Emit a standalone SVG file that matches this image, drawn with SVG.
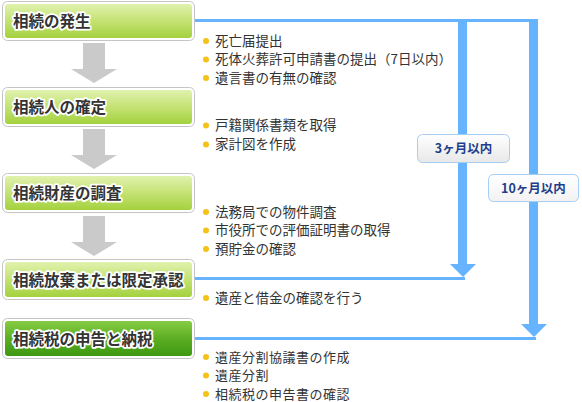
<svg xmlns="http://www.w3.org/2000/svg" width="582" height="402" viewBox="0 0 582 402">
<defs>
<linearGradient id="gLight" x1="0" y1="0" x2="0" y2="1">
<stop offset="0" stop-color="#e0f2ae"/>
<stop offset="0.5" stop-color="#c4e274"/>
<stop offset="1" stop-color="#a4d13e"/>
</linearGradient>
<linearGradient id="gDark" x1="0" y1="0" x2="0" y2="1">
<stop offset="0" stop-color="#86cc44"/>
<stop offset="0.5" stop-color="#5cae22"/>
<stop offset="1" stop-color="#3e9812"/>
</linearGradient>
<linearGradient id="gLabel" x1="0" y1="0" x2="0" y2="1">
<stop offset="0" stop-color="#ffffff"/>
<stop offset="1" stop-color="#e8e8e8"/>
</linearGradient>
<linearGradient id="gLabel2" x1="0" y1="0" x2="0" y2="1">
<stop offset="0" stop-color="#ffffff"/>
<stop offset="1" stop-color="#f2f2f2"/>
</linearGradient>
</defs>
<style>
.outer{fill:#ffffff;stroke:#c4c4c4;stroke-width:1}
.title{font-family:"Noto Sans CJK JP",sans-serif;font-size:15.5px;font-weight:bold;fill:#333333;stroke:#ffffff;stroke-width:3.5px;stroke-linejoin:round;paint-order:stroke}
.item{font-family:"Noto Sans CJK JP",sans-serif;font-size:13.5px;fill:#333333}
.item.s{font-size:13px;letter-spacing:0.5px}
.bullet{fill:#f5c21a}
.garrow{fill:#cacaca}
.blue{fill:#66b3ff}
.lbox{stroke:#a6cdf2;stroke-width:1}
.ltext{font-family:"Noto Sans CJK JP",sans-serif;font-size:12.5px;font-weight:bold;fill:#1f3f8c;text-anchor:middle}
</style>

<g id="connectors">
<polygon class="garrow" points="83,43 105,43 105,69 117,69 94,83 71,69 83,69"/>
<polygon class="garrow" points="83,129 105,129 105,155 117,155 94,169 71,155 83,155"/>
<polygon class="garrow" points="83,216 105,216 105,242 117,242 94,256 71,242 83,242"/>
<rect class="blue" x="195" y="19" width="343" height="3"/>
<rect class="blue" x="458" y="19" width="9" height="246"/>
<polygon class="blue" points="450,264 476,264 463,277"/>
<rect class="blue" x="195" y="277" width="270" height="3"/>
<rect class="blue" x="529" y="19" width="9" height="306"/>
<polygon class="blue" points="521,324 547,324 534,337"/>
<rect class="blue" x="195" y="337" width="341" height="3"/>
</g>

<g id="label-3m">
<rect class="lbox" x="417.5" y="134.5" width="92" height="28" rx="5" fill="url(#gLabel)"/>
<text class="ltext" x="463.5" y="152.5">3ヶ月以内</text>
</g>
<g id="label-10m">
<rect class="lbox" x="488.5" y="174.5" width="90" height="27" rx="5" fill="url(#gLabel2)"/>
<text class="ltext" x="533.5" y="192.5">10ヶ月以内</text>
</g>

<g id="step1">
<rect class="outer" x="2.5" y="1.5" width="192" height="39" rx="5"/>
<rect x="5" y="4" width="187" height="34" rx="3" fill="url(#gLight)"/>
<text class="title" x="13" y="27">相続の発生</text>
</g>
<g id="step2">
<rect class="outer" x="2.5" y="87.5" width="192" height="39" rx="5"/>
<rect x="5" y="90" width="187" height="34" rx="3" fill="url(#gLight)"/>
<text class="title" x="13" y="113">相続人の確定</text>
</g>
<g id="step3">
<rect class="outer" x="2.5" y="173.5" width="192" height="39" rx="5"/>
<rect x="5" y="176" width="187" height="34" rx="3" fill="url(#gLight)"/>
<text class="title" x="13" y="199">相続財産の調査</text>
</g>
<g id="step4">
<rect class="outer" x="2.5" y="259.5" width="192" height="40" rx="5"/>
<rect x="5" y="262" width="187" height="35" rx="3" fill="url(#gLight)"/>
<text class="title" x="13" y="285.5">相続放棄または限定承認</text>
</g>
<g id="step5">
<rect class="outer" x="2.5" y="318.5" width="192" height="40" rx="5"/>
<rect x="5" y="321" width="187" height="35" rx="3" fill="url(#gDark)"/>
<text class="title" x="13" y="344.5">相続税の申告と納税</text>
</g>

<g id="list1">
<circle class="bullet" cx="206" cy="41" r="3"/>
<text class="item" x="215" y="45.5">死亡届提出</text>
<circle class="bullet" cx="206" cy="59.5" r="3"/>
<text class="item" x="215" y="64">死体火葬許可申請書の提出（7日以内）</text>
<circle class="bullet" cx="206" cy="78" r="3"/>
<text class="item" x="215" y="82.5">遺言書の有無の確認</text>
</g>
<g id="list2">
<circle class="bullet" cx="206" cy="125.5" r="3"/>
<text class="item" x="215" y="130">戸籍関係書類を取得</text>
<circle class="bullet" cx="206" cy="144.5" r="3"/>
<text class="item" x="215" y="149">家計図を作成</text>
</g>
<g id="list3">
<circle class="bullet" cx="206" cy="212" r="3"/>
<text class="item" x="215" y="216.5">法務局での物件調査</text>
<circle class="bullet" cx="206" cy="230.5" r="3"/>
<text class="item" x="215" y="235">市役所での評価証明書の取得</text>
<circle class="bullet" cx="206" cy="249" r="3"/>
<text class="item" x="215" y="253.5">預貯金の確認</text>
</g>
<g id="list4">
<circle class="bullet" cx="206" cy="298" r="3"/>
<text class="item" x="215" y="302.5">遺産と借金の確認を行う</text>
</g>
<g id="list5">
<circle class="bullet" cx="206" cy="357" r="3"/>
<text class="item s" x="215" y="361.5">遺産分割協議書の作成</text>
<circle class="bullet" cx="206" cy="375.5" r="3"/>
<text class="item s" x="215" y="380">遺産分割</text>
<circle class="bullet" cx="206" cy="394" r="3"/>
<text class="item s" x="215" y="398.5">相続税の申告書の確認</text>
</g>
</svg>
